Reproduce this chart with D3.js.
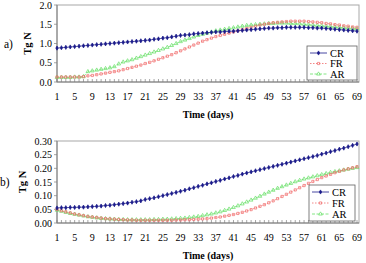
<!DOCTYPE html>
<html>
<head>
<meta charset="utf-8">
<title>Tg N</title>
<script src="https://d3js.org/d3.v7.min.js"></script>
<style>
  body { margin: 0; background: #fff; }
  svg text { font-family: "Liberation Serif", "DejaVu Serif", serif; fill: #000; }
</style>
</head>
<body>
<script>
// days 1..69
const days = d3.range(1, 70);
const dayLabels = d3.range(1, 70, 4);
const seriesNames = ["CR", "FR", "AR"];

// panel a) Tg N
const aCR = [0.88,0.89,0.90,0.91,0.92,0.93,0.94,0.95,0.96,0.97,0.98,0.99,1.00,1.01,1.02,1.03,1.04,1.05,1.06,1.07,1.08,1.09,1.11,1.12,1.14,1.15,1.17,1.19,1.21,
  1.22,1.23,1.25,1.26,1.27,1.28,1.29,1.30,1.30,1.31,1.32,1.32,
  1.33,1.34,1.35,1.36,1.37,1.38,1.39,1.40,1.40,1.41,1.41,1.42,1.42,1.42,1.42,1.42,
  1.41,1.41,1.40,1.40,1.39,1.38,1.37,1.36,1.35,1.34,1.33,1.32];
const aFR = [0.13,0.13,0.13,0.13,0.13,0.13,0.14,
  0.16,0.17,0.19,0.21,0.23,0.25,0.27,0.29,0.32,0.35,0.38,0.41,0.44,
  0.48,0.51,0.55,0.59,0.63,0.67,0.71,0.76,0.81,
  0.86,0.91,0.96,1.01,1.06,1.10,1.14,1.18,1.21,1.24,1.27,
  1.30,1.33,1.36,1.39,1.42,1.45,1.48,1.50,1.52,1.54,1.55,1.56,1.57,1.58,
  1.58,1.58,1.58,1.57,1.56,1.55,1.54,1.52,1.51,1.49,1.48,1.46,1.45,1.43,1.42];
const aAR = [0.12,0.12,0.12,0.12,0.13,0.13,0.14,
  0.27,0.29,0.31,0.33,0.35,0.37,0.40,
  0.47,0.52,0.55,0.58,0.62,0.66,
  0.70,0.74,0.78,0.82,0.86,0.90,0.95,1.00,1.05,
  1.09,1.13,1.17,1.21,1.24,1.27,1.30,1.33,1.35,1.37,1.39,
  1.41,1.43,1.45,1.47,1.48,1.49,1.50,1.51,1.52,1.52,
  1.53,1.53,1.53,1.52,1.52,1.51,1.50,1.49,1.48,1.47,1.46,1.45,1.44,1.43,1.42,1.41,1.40,1.39,1.38];
const aTicks = [0, 0.5, 1.0, 1.5, 2.0];

// panel b) Tg N
const bCR = [0.055,0.056,0.056,0.057,0.057,0.058,0.058,0.059,0.060,0.061,
  0.062,0.064,0.065,0.067,0.069,0.071,0.073,0.076,0.078,0.081,
  0.086,0.089,0.092,0.096,0.100,0.104,0.108,0.112,0.116,0.120,
  0.125,0.129,0.134,0.138,0.143,0.147,0.152,0.156,0.161,0.165,
  0.170,0.174,0.179,0.183,0.187,0.191,0.195,0.199,0.203,0.207,
  0.211,0.215,0.219,0.223,0.227,0.231,0.235,0.239,0.243,0.247,
  0.252,0.256,0.261,0.265,0.270,0.274,0.279,0.284,0.289];
const bFR = [0.050,0.045,0.041,0.037,0.033,0.030,0.027,0.024,0.022,0.020,
  0.018,0.016,0.015,0.014,0.013,0.012,0.011,0.011,0.010,0.010,
  0.010,0.010,0.010,0.010,0.010,0.010,0.010,0.011,0.011,0.012,
  0.012,0.013,0.014,0.015,0.016,0.018,0.020,0.022,0.025,0.028,
  0.031,0.035,0.039,0.044,0.049,0.055,0.061,0.067,0.074,0.081,
  0.089,0.097,0.105,0.113,0.121,0.129,0.137,0.145,0.152,0.159,
  0.166,0.172,0.178,0.184,0.189,0.194,0.198,0.202,0.206];
const bAR = [0.047,0.043,0.039,0.035,0.032,0.029,0.026,0.023,0.021,0.019,
  0.017,0.016,0.015,0.014,0.013,0.013,0.012,0.012,0.012,0.012,
  0.012,0.012,0.013,0.013,0.014,0.014,0.015,0.016,0.017,0.018,
  0.020,0.022,0.024,0.027,0.030,0.033,0.037,0.041,0.046,0.051,
  0.057,0.063,0.070,0.077,0.084,0.091,0.098,0.106,0.113,0.120,
  0.127,0.133,0.139,0.145,0.151,0.156,0.161,0.165,0.169,0.173,
  0.177,0.181,0.185,0.188,0.191,0.194,0.197,0.200,0.203];
const bTicks = [0, 0.05, 0.10, 0.15, 0.20, 0.25, 0.30];

const styles = {
  CR: { color: "#1a1a8a", dash: null, marker: d3.symbolDiamond, size: 5, fill: "#1a1a8a" },
  FR: { color: "#f06a6a", dash: "1.5,1.5", marker: d3.symbolSquare, size: 5, fill: "none" },
  AR: { color: "#66e066", dash: "3,1.5", marker: d3.symbolTriangle, size: 6, fill: "none" }
};

const svg = d3.select("body").append("svg")
  .attr("width", 366).attr("height", 263);

const x = d3.scaleLinear().domain([1, 69]).range([57, 357]);

function panel(opt) {
  const y = d3.scaleLinear().domain(opt.domain).range([opt.bottom, opt.top]);
  const g = svg.append("g");

  // frame
  g.append("rect")
    .attr("x", 57).attr("y", opt.top)
    .attr("width", 359 - 57).attr("height", opt.bottom - opt.top)
    .attr("fill", "#fff").attr("stroke", "#a8a8a8").attr("stroke-width", 1);

  // y axis with small outward ticks
  g.append("line").attr("x1", 57).attr("x2", 57).attr("y1", opt.top).attr("y2", opt.bottom)
    .attr("stroke", "#808080");
  g.selectAll(".yt").data(opt.ticks).enter().append("line")
    .attr("x1", 54).attr("x2", 57).attr("y1", d => y(d)).attr("y2", d => y(d))
    .attr("stroke", "#808080").attr("stroke-width", 0.7);
  g.selectAll(".yl").data(opt.ticks).enter().append("text")
    .attr("x", 52).attr("y", d => y(d) + 3.5)
    .attr("text-anchor", "end").attr("font-size", 10)
    .text(d => d3.format(opt.fmt)(d));

  // x axis with daily ticks pointing up
  g.append("line").attr("x1", 57).attr("x2", 359).attr("y1", opt.bottom).attr("y2", opt.bottom)
    .attr("stroke", "#808080");
  g.selectAll(".xt").data(days).enter().append("line")
    .attr("x1", d => x(d)).attr("x2", d => x(d))
    .attr("y1", opt.bottom).attr("y2", opt.bottom - 3)
    .attr("stroke", "#808080").attr("stroke-width", 0.7);
  g.selectAll(".xl").data(dayLabels).enter().append("text")
    .attr("x", d => x(d)).attr("y", opt.bottom + 18)
    .attr("text-anchor", "middle").attr("font-size", 10)
    .text(d => d);

  g.append("text")
    .attr("x", 208).attr("y", opt.bottom + 36)
    .attr("text-anchor", "middle").attr("font-size", 10).attr("font-weight", "bold")
    .text("Time (days)");

  g.append("text")
    .attr("transform", `translate(${opt.ylabX},${(opt.top + opt.bottom) / 2}) rotate(-90)`)
    .attr("text-anchor", "middle").attr("font-size", 10.5).attr("font-weight", "bold")
    .text("Tg N");

  g.append("text")
    .attr("x", opt.tagX).attr("y", (opt.top + opt.bottom) / 2 + 4)
    .attr("font-size", 11.5)
    .text(opt.tag);

  const line = d3.line().x((d, i) => x(days[i])).y(d => y(d));

  // draw in order AR, FR, CR so CR sits on top
  ["AR", "FR", "CR"].forEach(name => {
    const s = styles[name];
    const vals = opt.data[name];
    g.append("path").datum(vals)
      .attr("d", line).attr("fill", "none")
      .attr("stroke", s.color).attr("stroke-width", 0.7)
      .attr("stroke-dasharray", s.dash);
    g.selectAll(".m" + name).data(vals).enter().append("path")
      .attr("transform", (d, i) => `translate(${x(days[i])},${y(d)})`)
      .attr("d", d3.symbol().type(s.marker).size(s.size))
      .attr("fill", s.fill)
      .attr("stroke", s.color).attr("stroke-width", 0.7);
  });

  // legend
  const L = opt.legend;
  g.append("rect").attr("x", L.x).attr("y", L.y).attr("width", L.w).attr("height", L.h)
    .attr("fill", "#fff").attr("stroke", "#606060").attr("stroke-width", 0.8);
  seriesNames.forEach((name, i) => {
    const s = styles[name];
    const ly = L.y + 7 + i * L.step;
    g.append("line").attr("x1", L.x + 3).attr("x2", L.x + 20).attr("y1", ly).attr("y2", ly)
      .attr("stroke", s.color).attr("stroke-width", 0.8).attr("stroke-dasharray", s.dash);
    g.append("path").attr("transform", `translate(${L.x + 11.5},${ly})`)
      .attr("d", d3.symbol().type(s.marker).size(s.size))
      .attr("fill", s.fill)
      .attr("stroke", s.color).attr("stroke-width", 0.7);
    g.append("text").attr("x", L.x + 23).attr("y", ly + 3.5)
      .attr("font-size", 10.5).text(name);
  });
}

panel({
  top: 5, bottom: 82, domain: [0, 2], ticks: aTicks, fmt: ".1f",
  data: { CR: aCR, FR: aFR, AR: aAR },
  ylabX: 31, tagX: 4, tag: "a)",
  legend: { x: 307, y: 46, w: 50, h: 34, step: 10.5 }
});

panel({
  top: 141, bottom: 223, domain: [0, 0.3], ticks: bTicks, fmt: ".2f",
  data: { CR: bCR, FR: bFR, AR: bAR },
  ylabX: 26, tagX: 0, tag: "b)",
  legend: { x: 309, y: 185, w: 46, h: 36, step: 11 }
});
</script>
</body>
</html>
